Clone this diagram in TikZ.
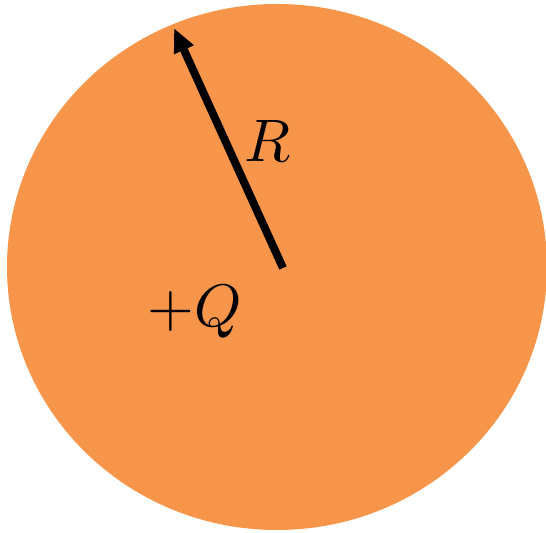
\documentclass[tikz,border=0pt]{standalone}
\usepackage{amsmath}
\usepackage{unicode-math}
\setmathfont{Latin Modern Math}
\usepackage{tikz}
\usetikzlibrary{arrows.meta,calc,positioning}
\definecolor{csphere}{RGB}{247,150,74}
\tikzset{
  sphere/.style={fill=csphere,draw=none},
  radius arrow/.style={-{Triangle[length=12pt,width=10pt]},line width=4pt},
  lab/.style={inner sep=0pt,font=\fontsize{30}{32}\selectfont}
}

\begin{document}
\begin{tikzpicture}[x=0.5pt,y=0.5pt]
\useasboundingbox (0,0) rectangle (546,533);
% charged sphere
\fill[sphere] (277,266) ellipse [x radius=270,y radius=263];
\coordinate (ctr) at (283,265);
\coordinate (rim) at (174,505);
\draw[radius arrow] (ctr) -- (rim);
\node[lab] (rlab) at (268,391) {$R$};
\node[lab] (qlab) at (195,222) {$+Q$};
\end{tikzpicture}
\end{document}
